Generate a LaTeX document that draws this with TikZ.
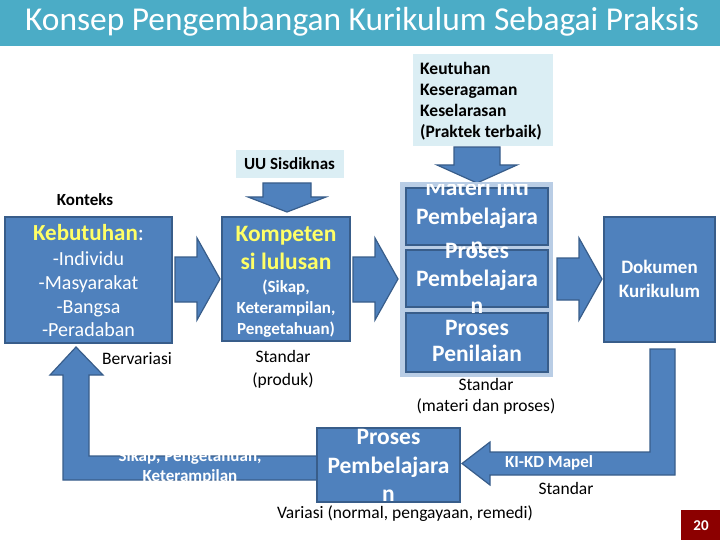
\documentclass[tikz,border=0pt]{standalone}
\usepackage{fontspec}
\setmainfont{Carlito}
\definecolor{titlebar}{HTML}{4BACC6}
\definecolor{boxfill}{HTML}{4F81BD}
\definecolor{boxline}{HTML}{385D8A}
\definecolor{paleblue}{HTML}{DBEEF4}
\definecolor{framebl}{HTML}{B9CDE5}
\definecolor{hilite}{HTML}{FFFF66}
\definecolor{pagered}{HTML}{8C0000}

\begin{document}
\begin{tikzpicture}[line join=miter,x=1pt,y=-1pt,
  box/.style={draw=boxline,fill=boxfill,line width=2pt,inner sep=0pt},
  blockarrow/.style={draw=boxline,fill=boxfill,line width=1.2pt},
  wlbl/.style={text=white,align=center,inner sep=0pt},
  blbl/.style={text=black,align=center,inner sep=0pt}]
\useasboundingbox (0,0) rectangle (720,540);
\fill[titlebar] (0,0) rectangle (720,46);
\node[anchor=west,text=white,inner sep=0pt,font=\fontsize{33.4}{36}\selectfont] (title) at (25,22) {Konsep Pengembangan Kurikulum Sebagai Praksis};

\node[fill=paleblue,minimum width=140,minimum height=92,inner sep=0pt] (keutuhan) at (483,100) {};
\node[anchor=west,align=left,inner sep=0pt,font=\fontsize{17.5}{21}\selectfont\bfseries] (keutuhanT) at (420,101.5) {Keutuhan\\Keseragaman\\Keselarasan\\(Praktek terbaik)};
\node[fill=paleblue,minimum width=108,minimum height=28,inner sep=0pt,font=\fontsize{17}{20}\selectfont\bfseries] (uu) at (289.5,164) {UU Sisdiknas};

\draw[blockarrow] (454,147) -- (500,147) -- (500,165) -- (517,165) -- (477,183) -- (437,165) -- (454,165) -- cycle;
\draw[blockarrow] (263,183) -- (311,183) -- (311,197) -- (326,197) -- (287,212) -- (248,197) -- (263,197) -- cycle;
\draw[blockarrow] (175,257) -- (197,257) -- (197,238) -- (220,279) -- (197,320) -- (197,302) -- (175,302) -- cycle;
\draw[blockarrow] (353,257) -- (375,257) -- (375,238) -- (398,279) -- (375,320) -- (375,302) -- (353,302) -- cycle;
\draw[blockarrow] (557,258) -- (579,258) -- (579,238) -- (602,279) -- (579,320) -- (579,300) -- (557,300) -- cycle;
\draw[blockarrow] (650,349) -- (675,349) -- (675,475) -- (490,475) -- (490,485) -- (462,463.5) -- (490,442) -- (490,452) -- (650,452) -- cycle;
\draw[blockarrow] (320,456) -- (89,456) -- (89,375) -- (103,375) -- (76,347) -- (50,375) -- (63,375) -- (63,480) -- (320,480) -- cycle;

\node[box,minimum width=167,minimum height=126] (keb) at (88.5,280) {};
\node[box,minimum width=128,minimum height=124] (komp) at (286,279) {};
\node[fill=framebl,minimum width=153,minimum height=195,inner sep=0pt] (materi) at (476.5,279.5) {};
\node[box,minimum width=142,minimum height=57] (mat1) at (477,216.5) {};
\node[box,minimum width=142,minimum height=57] (mat2) at (477,278.5) {};
\node[box,minimum width=142,minimum height=59] (mat3) at (477,342.5) {};
\node[box,minimum width=111,minimum height=125] (dok) at (659.5,279.5) {};
\node[box,minimum width=143,minimum height=74] (proses) at (388.5,465) {};

\node[blbl,font=\fontsize{17}{20}\selectfont\bfseries] (konteks) at (85,200) {Konteks};
\node[wlbl,font=\fontsize{23}{27}\selectfont] (kebT) at (88.5,233) {\textcolor{hilite}{\bfseries Kebutuhan}:};
\node[wlbl,font=\fontsize{20}{23.7}\selectfont] (kebL) at (88.5,294.5) {-Individu\\-Masyarakat\\-Bangsa\\-Peradaban};
\node[wlbl,text=hilite,font=\fontsize{23.5}{28}\selectfont\bfseries] (kompT) at (286,248) {Kompeten\\si lulusan};
\node[wlbl,font=\fontsize{17}{21}\selectfont\bfseries] (kompL) at (286,308.5) {(Sikap,\\Keterampilan,\\Pengetahuan)};
\begin{scope}
\clip (400,185) rectangle (553,377);
\node[wlbl,font=\fontsize{23.5}{29}\selectfont\bfseries] (mat1T) at (477,216.5) {Materi Inti\\Pembelajara\\n};
\node[wlbl,font=\fontsize{23.5}{27.5}\selectfont\bfseries] (mat2T) at (477,278.5) {Proses\\Pembelajara\\n};
\node[wlbl,font=\fontsize{23.5}{26}\selectfont\bfseries] (mat3T) at (477,341) {Proses\\Penilaian};
\end{scope}
\node[wlbl,font=\fontsize{19}{24}\selectfont\bfseries] (dokT) at (659.5,279) {Dokumen\\Kurikulum};
\node[wlbl,font=\fontsize{23.5}{28.5}\selectfont\bfseries] (prosesT) at (388.5,465.5) {Proses\\Pembelajara\\n};

\node[blbl,font=\fontsize{17.5}{21}\selectfont] (bervariasi) at (137,359) {Bervariasi};
\node[blbl,font=\fontsize{17.5}{23}\selectfont] (standarP) at (283,369.5) {Standar\\(produk)};
\node[blbl,font=\fontsize{17.5}{21}\selectfont] (standarM) at (486,396.5) {Standar\\(materi dan proses)};
\node[wlbl,font=\fontsize{17}{20}\selectfont\bfseries] (sikap) at (190,467) {Sikap, Pengetahuan,\\Keterampilan};
\node[wlbl,font=\fontsize{17}{20}\selectfont\bfseries] (kikd) at (549,463) {KI-KD Mapel};
\node[blbl,font=\fontsize{17.5}{21}\selectfont] (standarK) at (566,488) {Standar};
\node[blbl,font=\fontsize{17.5}{21}\selectfont] (variasi) at (405,514) {Variasi (normal, pengayaan, remedi)};

\fill[pagered] (681,510) rectangle (720,540);
\node[wlbl,font=\fontsize{15}{18}\selectfont\bfseries] (page) at (701,526) {20};
\end{tikzpicture}
\end{document}
